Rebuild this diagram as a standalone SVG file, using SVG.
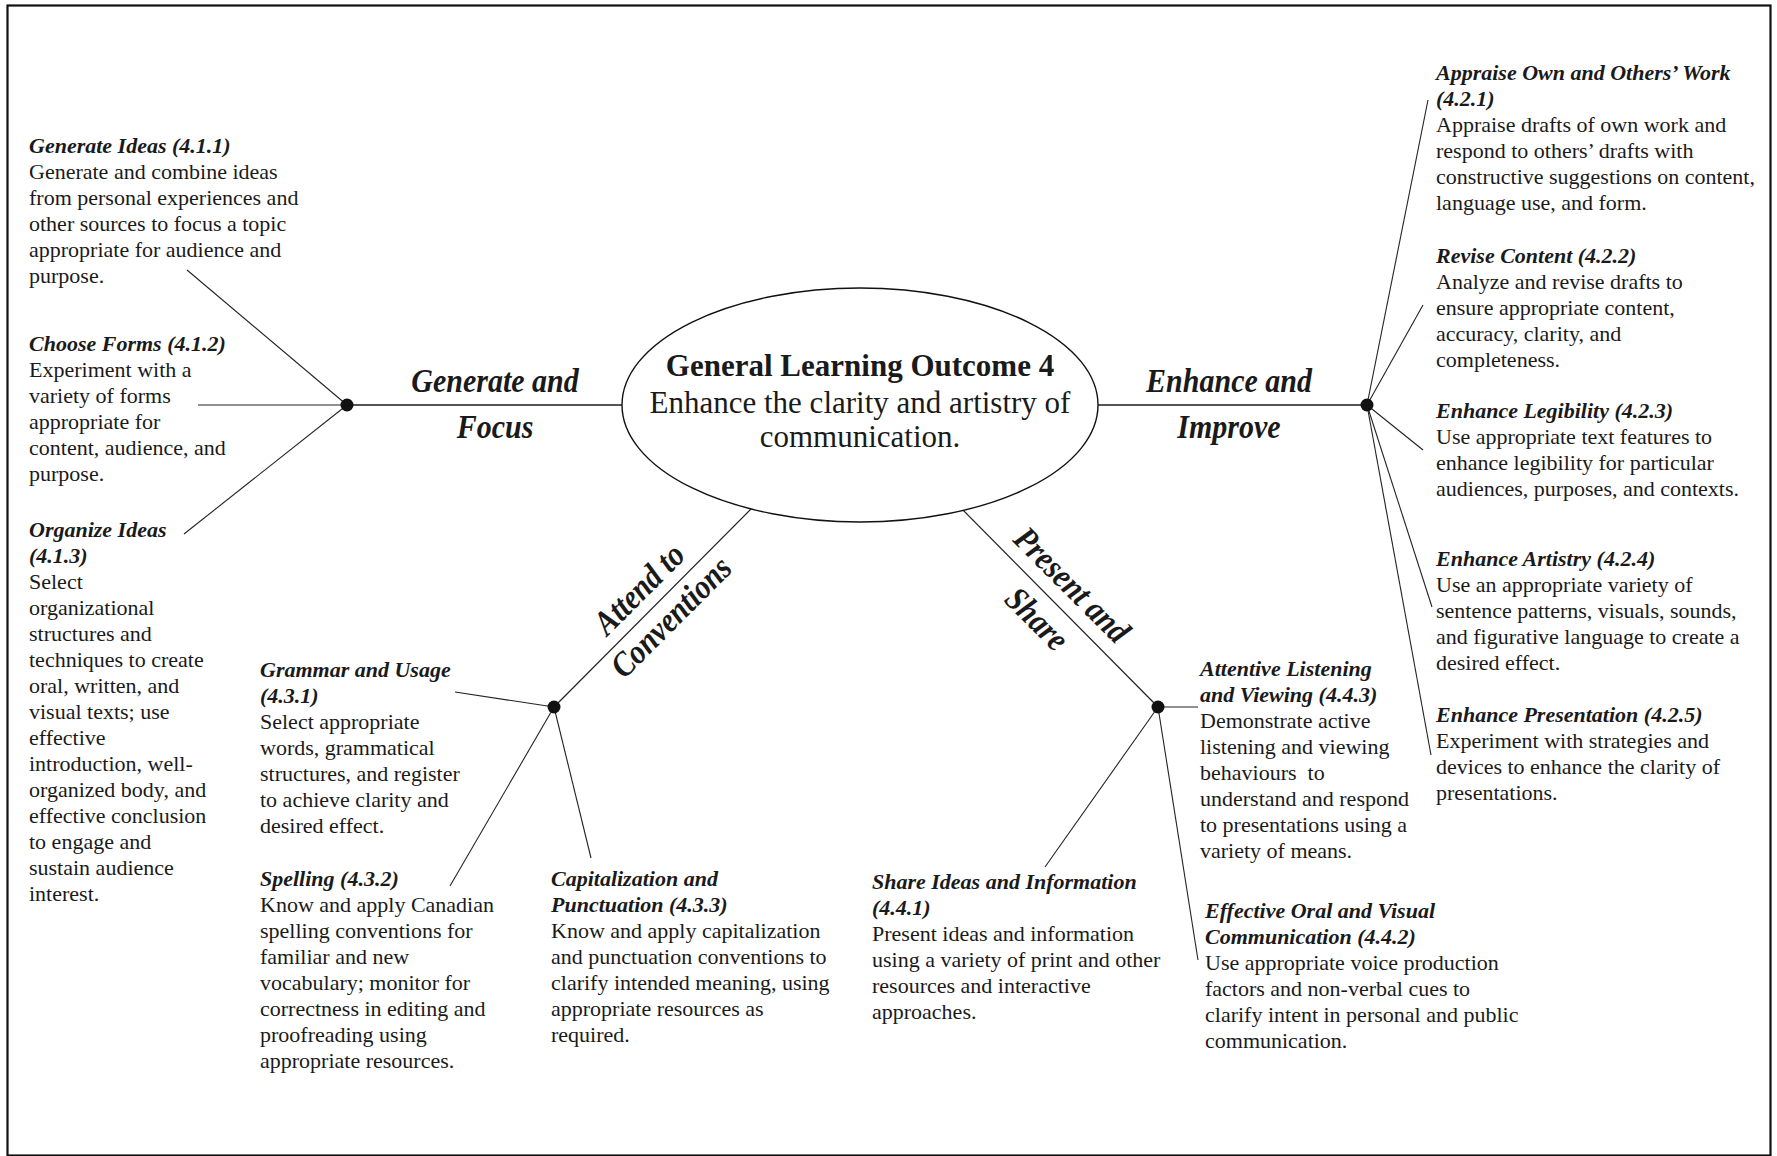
<svg xmlns="http://www.w3.org/2000/svg" width="1777" height="1156" viewBox="0 0 1777 1156">
<style>
  text { font-family: "Liberation Serif", "Times New Roman", serif; fill: #1a1a1a; }
  .h { font-size: 22px; font-weight: bold; font-style: italic; }
  .b { font-size: 22px; }
  .lbl { font-size: 30px; font-weight: bold; font-style: italic; }
  .t1 { font-size: 31px; font-weight: bold; text-anchor: middle; }
  .t2 { font-size: 31px; text-anchor: middle; }
  .main { stroke: #555; stroke-width: 2.2; fill: none; }
  .diag { stroke: #222; stroke-width: 1.2; fill: none; }
  .sub { stroke: #222; stroke-width: 1.1; fill: none; }
  .dot { fill: #111; }
</style>
<rect x="7.5" y="5.5" width="1763" height="1150" fill="#fff" stroke="#111" stroke-width="2.2"/>

<g id="connectors">
  <line class="main" x1="347" y1="405" x2="700" y2="405"/>
  <line class="main" x1="1020" y1="405" x2="1367" y2="405"/>
  <line class="diag" x1="554" y1="707" x2="760" y2="500"/>
  <line class="diag" x1="1158" y1="707" x2="955" y2="502"/>
  <line class="sub" x1="347" y1="405" x2="187" y2="270"/>
  <line class="sub" x1="347" y1="405" x2="198" y2="405"/>
  <line class="sub" x1="347" y1="405" x2="184" y2="534"/>
  <line class="sub" x1="1367" y1="405" x2="1428" y2="100"/>
  <line class="sub" x1="1367" y1="405" x2="1423" y2="305"/>
  <line class="sub" x1="1367" y1="405" x2="1423" y2="450"/>
  <line class="sub" x1="1367" y1="405" x2="1432" y2="607"/>
  <line class="sub" x1="1367" y1="405" x2="1431" y2="755"/>
  <line class="sub" x1="554" y1="707" x2="455" y2="692"/>
  <line class="sub" x1="554" y1="707" x2="450" y2="886"/>
  <line class="sub" x1="554" y1="707" x2="591" y2="858"/>
  <line class="sub" x1="1158" y1="707" x2="1198" y2="707"/>
  <line class="sub" x1="1158" y1="707" x2="1045" y2="867"/>
  <line class="sub" x1="1158" y1="707" x2="1198" y2="960"/>
  <circle class="dot" cx="347" cy="405" r="6.5"/>
  <circle class="dot" cx="1367" cy="405" r="6.5"/>
  <circle class="dot" cx="554" cy="707" r="6.5"/>
  <circle class="dot" cx="1158" cy="707" r="6.5"/>
</g>

<g id="center">
  <ellipse cx="860" cy="405" rx="238" ry="117" fill="#fff" stroke="#111" stroke-width="1.4"/>
  <text class="t1" x="860" y="376">General Learning Outcome 4</text>
  <text class="t2" x="860" y="413">Enhance the clarity and artistry of</text>
  <text class="t2" x="860" y="447">communication.</text>
</g>

<g id="label-generate" transform="translate(495,392) scale(1,1.15)">
  <text class="lbl" text-anchor="middle" x="0" y="0">Generate and</text>
  <text class="lbl" text-anchor="middle" x="0" y="40">Focus</text>
</g>
<g id="label-enhance" transform="translate(1229,392) scale(1,1.15)">
  <text class="lbl" text-anchor="middle" x="0" y="0">Enhance and</text>
  <text class="lbl" text-anchor="middle" x="0" y="40">Improve</text>
</g>
<g id="label-attend">
  <text class="lbl" text-anchor="middle" transform="translate(647,597) rotate(-45) scale(1,1.15)">Attend to</text>
  <text class="lbl" text-anchor="middle" transform="translate(679,625) rotate(-45) scale(1,1.15)">Conventions</text>
</g>
<g id="label-present">
  <text class="lbl" text-anchor="middle" transform="translate(1064,593) rotate(45) scale(1,1.15)">Present and</text>
  <text class="lbl" text-anchor="middle" transform="translate(1029,627) rotate(45) scale(1,1.15)">Share</text>
</g>

<g id="n411" transform="translate(29,153)">
  <text><tspan class="h" x="0" y="0">Generate Ideas (4.1.1)</tspan><tspan class="b" x="0" y="26">Generate and combine ideas</tspan><tspan class="b" x="0" y="52">from personal experiences and</tspan><tspan class="b" x="0" y="78">other sources to focus a topic</tspan><tspan class="b" x="0" y="104">appropriate for audience and</tspan><tspan class="b" x="0" y="130">purpose.</tspan></text>
</g>
<g id="n412" transform="translate(29,351)">
  <text><tspan class="h" x="0" y="0">Choose Forms (4.1.2)</tspan><tspan class="b" x="0" y="26">Experiment with a</tspan><tspan class="b" x="0" y="52">variety of forms</tspan><tspan class="b" x="0" y="78">appropriate for</tspan><tspan class="b" x="0" y="104">content, audience, and</tspan><tspan class="b" x="0" y="130">purpose.</tspan></text>
</g>
<g id="n413" transform="translate(29,537)">
  <text><tspan class="h" x="0" y="0">Organize Ideas</tspan><tspan class="h" x="0" y="26">(4.1.3)</tspan><tspan class="b" x="0" y="52">Select</tspan><tspan class="b" x="0" y="78">organizational</tspan><tspan class="b" x="0" y="104">structures and</tspan><tspan class="b" x="0" y="130">techniques to create</tspan><tspan class="b" x="0" y="156">oral, written, and</tspan><tspan class="b" x="0" y="182">visual texts; use</tspan><tspan class="b" x="0" y="208">effective</tspan><tspan class="b" x="0" y="234">introduction, well-</tspan><tspan class="b" x="0" y="260">organized body, and</tspan><tspan class="b" x="0" y="286">effective conclusion</tspan><tspan class="b" x="0" y="312">to engage and</tspan><tspan class="b" x="0" y="338">sustain audience</tspan><tspan class="b" x="0" y="364">interest.</tspan></text>
</g>

<g id="n421" transform="translate(1436,80)">
  <text><tspan class="h" x="0" y="0">Appraise Own and Others’ Work</tspan><tspan class="h" x="0" y="26">(4.2.1)</tspan><tspan class="b" x="0" y="52">Appraise drafts of own work and</tspan><tspan class="b" x="0" y="78">respond to others’ drafts with</tspan><tspan class="b" x="0" y="104">constructive suggestions on content,</tspan><tspan class="b" x="0" y="130">language use, and form.</tspan></text>
</g>
<g id="n422" transform="translate(1436,263)">
  <text><tspan class="h" x="0" y="0">Revise Content (4.2.2)</tspan><tspan class="b" x="0" y="26">Analyze and revise drafts to</tspan><tspan class="b" x="0" y="52">ensure appropriate content,</tspan><tspan class="b" x="0" y="78">accuracy, clarity, and</tspan><tspan class="b" x="0" y="104">completeness.</tspan></text>
</g>
<g id="n423" transform="translate(1436,418)">
  <text><tspan class="h" x="0" y="0">Enhance Legibility (4.2.3)</tspan><tspan class="b" x="0" y="26">Use appropriate text features to</tspan><tspan class="b" x="0" y="52">enhance legibility for particular</tspan><tspan class="b" x="0" y="78">audiences, purposes, and contexts.</tspan></text>
</g>
<g id="n424" transform="translate(1436,566)">
  <text><tspan class="h" x="0" y="0">Enhance Artistry (4.2.4)</tspan><tspan class="b" x="0" y="26">Use an appropriate variety of</tspan><tspan class="b" x="0" y="52">sentence patterns, visuals, sounds,</tspan><tspan class="b" x="0" y="78">and figurative language to create a</tspan><tspan class="b" x="0" y="104">desired effect.</tspan></text>
</g>
<g id="n425" transform="translate(1436,722)">
  <text><tspan class="h" x="0" y="0">Enhance Presentation (4.2.5)</tspan><tspan class="b" x="0" y="26">Experiment with strategies and</tspan><tspan class="b" x="0" y="52">devices to enhance the clarity of</tspan><tspan class="b" x="0" y="78">presentations.</tspan></text>
</g>

<g id="n431" transform="translate(260,677)">
  <text><tspan class="h" x="0" y="0">Grammar and Usage</tspan><tspan class="h" x="0" y="26">(4.3.1)</tspan><tspan class="b" x="0" y="52">Select appropriate</tspan><tspan class="b" x="0" y="78">words, grammatical</tspan><tspan class="b" x="0" y="104">structures, and register</tspan><tspan class="b" x="0" y="130">to achieve clarity and</tspan><tspan class="b" x="0" y="156">desired effect.</tspan></text>
</g>
<g id="n432" transform="translate(260,886)">
  <text><tspan class="h" x="0" y="0">Spelling (4.3.2)</tspan><tspan class="b" x="0" y="26">Know and apply Canadian</tspan><tspan class="b" x="0" y="52">spelling conventions for</tspan><tspan class="b" x="0" y="78">familiar and new</tspan><tspan class="b" x="0" y="104">vocabulary; monitor for</tspan><tspan class="b" x="0" y="130">correctness in editing and</tspan><tspan class="b" x="0" y="156">proofreading using</tspan><tspan class="b" x="0" y="182">appropriate resources.</tspan></text>
</g>
<g id="n433" transform="translate(551,886)">
  <text><tspan class="h" x="0" y="0">Capitalization and</tspan><tspan class="h" x="0" y="26">Punctuation (4.3.3)</tspan><tspan class="b" x="0" y="52">Know and apply capitalization</tspan><tspan class="b" x="0" y="78">and punctuation conventions to</tspan><tspan class="b" x="0" y="104">clarify intended meaning, using</tspan><tspan class="b" x="0" y="130">appropriate resources as</tspan><tspan class="b" x="0" y="156">required.</tspan></text>
</g>

<g id="n441" transform="translate(872,889)">
  <text><tspan class="h" x="0" y="0">Share Ideas and Information</tspan><tspan class="h" x="0" y="26">(4.4.1)</tspan><tspan class="b" x="0" y="52">Present ideas and information</tspan><tspan class="b" x="0" y="78">using a variety of print and other</tspan><tspan class="b" x="0" y="104">resources and interactive</tspan><tspan class="b" x="0" y="130">approaches.</tspan></text>
</g>
<g id="n442" transform="translate(1205,918)">
  <text><tspan class="h" x="0" y="0">Effective Oral and Visual</tspan><tspan class="h" x="0" y="26">Communication (4.4.2)</tspan><tspan class="b" x="0" y="52">Use appropriate voice production</tspan><tspan class="b" x="0" y="78">factors and non-verbal cues to</tspan><tspan class="b" x="0" y="104">clarify intent in personal and public</tspan><tspan class="b" x="0" y="130">communication.</tspan></text>
</g>
<g id="n443" transform="translate(1200,676)">
  <text><tspan class="h" x="0" y="0">Attentive Listening</tspan><tspan class="h" x="0" y="26">and Viewing (4.4.3)</tspan><tspan class="b" x="0" y="52">Demonstrate active</tspan><tspan class="b" x="0" y="78">listening and viewing</tspan><tspan class="b" x="0" y="104">behaviours&#160; to</tspan><tspan class="b" x="0" y="130">understand and respond</tspan><tspan class="b" x="0" y="156">to presentations using a</tspan><tspan class="b" x="0" y="182">variety of means.</tspan></text>
</g>
</svg>
